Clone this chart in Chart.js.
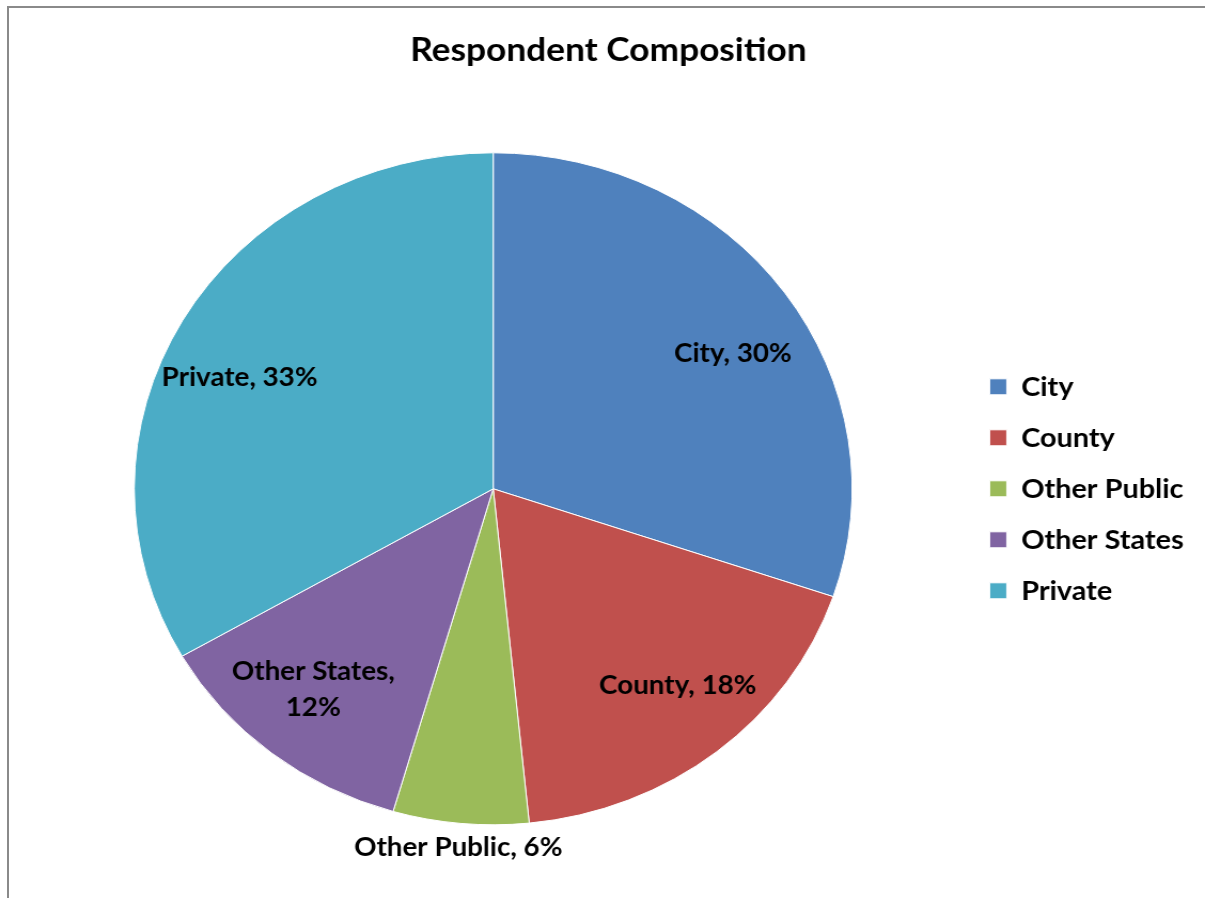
<!DOCTYPE html>
<html>
<head>
<meta charset="utf-8">
<title>Respondent Composition</title>
<script src="https://cdn.jsdelivr.net/npm/chart.js@4/dist/chart.umd.min.js"></script>
<style>
  html, body { margin: 0; padding: 0; background: #fff; overflow: hidden; }
  #frame {
    position: absolute; left: 7px; top: 6px; width: 1260px; height: 960px;
    border-left: 2px solid #8a8a8a; border-top: 2px solid #8a8a8a;
  }
  #chart { position: absolute; left: 0; top: 0; }
</style>
</head>
<body>
<div id="frame"></div>
<!-- the reference is a bit wider than tall, so the canvas is stretched sideways -->
<canvas id="chart" width="1128" height="898" style="width:1205px;height:898px"></canvas>
<script>
// ── data ──────────────────────────────────────────
const categories = ['City', 'County', 'Other Public', 'Other States', 'Private'];
const shares = [30.2, 18.2, 6.1, 12.2, 33.3];
const colors = ['#4F81BD', '#C0504D', '#9BBB59', '#8064A2', '#4BACC6'];

const FONT = 'Lato, Calibri, "Open Sans", sans-serif';

/* ── slice labels ("City, 30%") ─────────────────── */
// inside labels sit a bit past mid radius and lean towards the horizontal
// (bigger slices lean more); small slices get their label outside the rim
const sliceLabels = {
    id: 'sliceLabels',
    afterDatasetsDraw(chart) {
        const { ctx } = chart;
        const meta = chart.getDatasetMeta(0);
        const total = shares.reduce((a, b) => a + b, 0);
        ctx.save();
        ctx.font = `bold 26px ${FONT}`;
        ctx.fillStyle = '#000';
        ctx.textAlign = 'center';
        ctx.textBaseline = 'middle';
        meta.data.forEach((arc, i) => {
            const pct = shares[i] / total * 100;
            let mid = (arc.startAngle + arc.endAngle) / 2;
            const outside = pct < 8;
            if (!outside) {
                const lean = 0.15 * pct * Math.PI / 180;
                mid -= Math.sign(Math.sin(mid)) * Math.sign(Math.cos(mid)) * lean;
            }
            const dist = outside ? arc.outerRadius + 24 : arc.outerRadius * 0.78;
            const x = arc.x + Math.cos(mid) * dist;
            const y = arc.y + Math.sin(mid) * dist;
            const text = `${categories[i]}, ${Math.round(pct)}%`;
            if (!outside && ctx.measureText(text).width > 170) {
                ctx.fillText(`${categories[i]},`, x, y - 18);
                ctx.fillText(`${Math.round(pct)}%`, x, y + 18);
            } else {
                ctx.fillText(text, x, y);
            }
        });
        ctx.restore();
    }
};

new Chart(document.getElementById('chart').getContext('2d'), {
    type: 'pie',
    data: {
        labels: categories,
        datasets: [{
            data: shares,
            backgroundColor: colors,
            borderColor: '#fff',
            borderWidth: 1,
            radius: 336
        }]
    },
    options: {
        responsive: false,
        animation: false,
        devicePixelRatio: 1,
        layout: { padding: { left: 21, right: 10, top: 0, bottom: 73 } },
        plugins: {
            title: {
                display: true,
                text: 'Respondent Composition',
                color: '#000',
                font: { family: FONT, size: 33, weight: 'bold' },
                padding: { top: 31, bottom: 82 }
            },
            legend: {
                position: 'right',
                fullSize: false,
                labels: {
                    color: '#000',
                    font: { family: FONT, size: 27, weight: 'bold' },
                    boxWidth: 16,
                    boxHeight: 16,
                    padding: 24
                }
            },
            tooltip: { enabled: false }
        }
    },
    plugins: [sliceLabels]
});
</script>
</body>
</html>
